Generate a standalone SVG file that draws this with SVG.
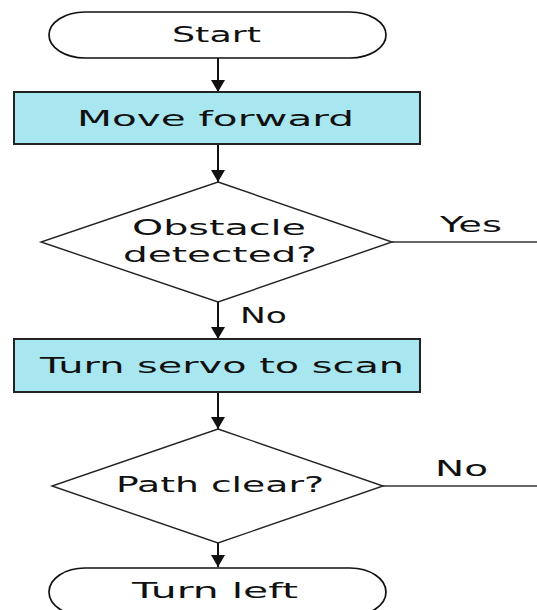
<svg xmlns="http://www.w3.org/2000/svg" width="537" height="610" viewBox="0 0 537 610">
<style>
.term{fill:#fff;stroke:#111;stroke-width:1.7}
.proc{fill:#a9e7f0;stroke:#222;stroke-width:2}
.dec{fill:#fff;stroke:#222;stroke-width:1.4}
.lbl{font-family:"DejaVu Sans",sans-serif;font-size:22px;fill:#111}
.edge{stroke:#111;stroke-width:2;fill:none}
.branch{stroke:#333;stroke-width:1.3;fill:none}
</style>
<defs>
<marker id="arr" viewBox="0 0 12 14" refX="12" refY="7" markerWidth="12" markerHeight="14" markerUnits="userSpaceOnUse" orient="auto">
<path d="M0,0 L12,7 L0,14 z" fill="#111"/>
</marker>
</defs>
<rect width="537" height="610" fill="#fff"/>
<g id="connectors">
<line class="edge" x1="218" y1="58" x2="218" y2="92" marker-end="url(#arr)"/>
<line class="edge" x1="218" y1="144" x2="218" y2="182" marker-end="url(#arr)"/>
<line class="edge" x1="218" y1="302" x2="218" y2="339" marker-end="url(#arr)"/>
<line class="edge" x1="218" y1="392" x2="218" y2="429" marker-end="url(#arr)"/>
<line class="edge" x1="218" y1="543" x2="218" y2="567" marker-end="url(#arr)"/>
<line class="branch" x1="392" y1="242" x2="537" y2="242"/>
<line class="branch" x1="383" y1="486" x2="537" y2="486"/>
<text class="lbl" x="440" y="232" textLength="62" lengthAdjust="spacingAndGlyphs">Yes</text>
<text class="lbl" x="240" y="323" textLength="47" lengthAdjust="spacingAndGlyphs">No</text>
<text class="lbl" x="435" y="476" textLength="53" lengthAdjust="spacingAndGlyphs">No</text>
</g>
<g id="start">
<rect class="term" x="49" y="12" width="337" height="46" rx="36" ry="23"/>
<text class="lbl" x="172" y="42" textLength="89" lengthAdjust="spacingAndGlyphs">Start</text>
</g>
<g id="move-forward">
<rect class="proc" x="14" y="92" width="406" height="52"/>
<text class="lbl" x="77" y="126" textLength="277" lengthAdjust="spacingAndGlyphs">Move forward</text>
</g>
<g id="obstacle">
<polygon class="dec" points="218,182 392,242 218,302 41,242"/>
<text class="lbl" x="132" y="235" textLength="174" lengthAdjust="spacingAndGlyphs">Obstacle</text>
<text class="lbl" x="123" y="262" textLength="194" lengthAdjust="spacingAndGlyphs">detected?</text>
</g>
<g id="scan">
<rect class="proc" x="14" y="339" width="406" height="53"/>
<text class="lbl" x="40" y="373" textLength="364" lengthAdjust="spacingAndGlyphs">Turn servo to scan</text>
</g>
<g id="path-clear">
<polygon class="dec" points="218,429 383,486 218,543 52,486"/>
<text class="lbl" x="116" y="492" textLength="208" lengthAdjust="spacingAndGlyphs">Path clear?</text>
</g>
<g id="turn-left">
<rect class="term" x="49" y="568" width="337" height="48" rx="36" ry="24"/>
<text class="lbl" x="132" y="598" textLength="166" lengthAdjust="spacingAndGlyphs">Turn left</text>
</g>
</svg>
